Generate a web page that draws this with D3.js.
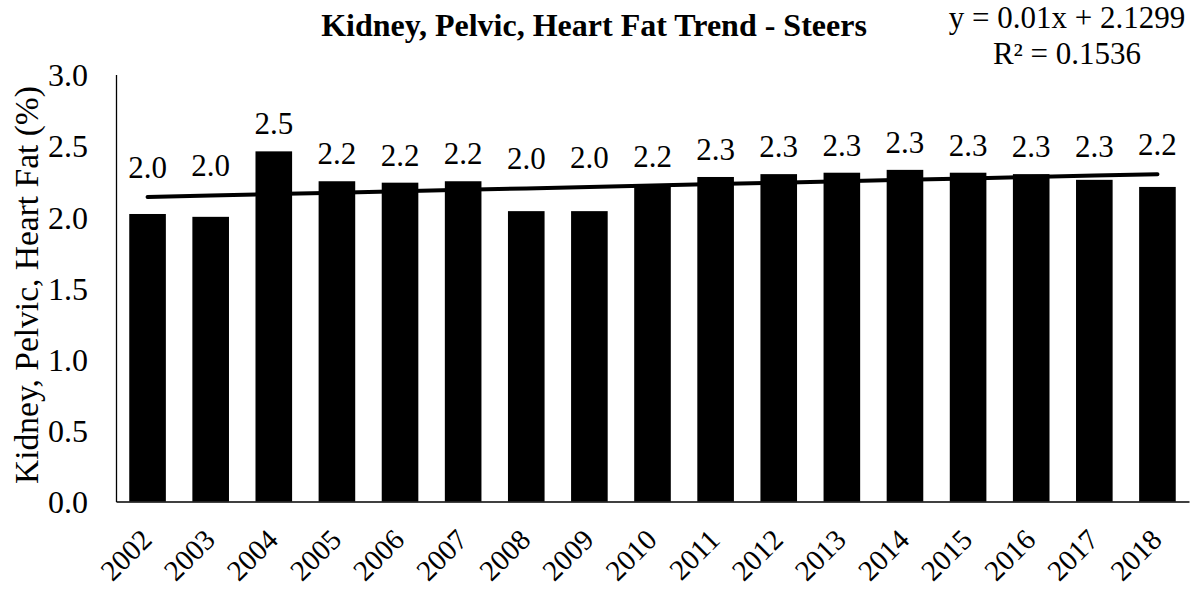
<!DOCTYPE html>
<html>
<head>
<meta charset="utf-8">
<script src="https://cdn.jsdelivr.net/npm/d3@7"></script>
<style>
  body { margin: 0; background: #fff; }
  text { font-family: "Liberation Serif", "Times New Roman", serif; fill: #000; }
</style>
</head>
<body>
<div id="chart"></div>
<script>
// data
const years = ['2002', '2003', '2004', '2005', '2006', '2007', '2008', '2009', '2010',
               '2011', '2012', '2013', '2014', '2015', '2016', '2017', '2018'];
const kphValues = [2.02, 2.00, 2.46, 2.25, 2.24, 2.25, 2.04, 2.04, 2.21,
                   2.28, 2.30, 2.31, 2.33, 2.31, 2.30, 2.26, 2.21];
const kphLabels = ['2.0', '2.0', '2.5', '2.2', '2.2', '2.2', '2.0', '2.0', '2.2',
                   '2.3', '2.3', '2.3', '2.3', '2.3', '2.3', '2.3', '2.2'];
const yTicks = [0, 0.5, 1.0, 1.5, 2.0, 2.5, 3.0];
// linear trend, x = 1..17
const trendSlope = 0.01;
const trendIntercept = 2.1299;
const trendText = ['y = 0.01x + 2.1299', 'R\u00B2 = 0.1536'];

function plotBars() {
	const width = 1198, height = 591;
	const svg = d3.select('#chart')
		.append('svg')
		.attr('width', width)
		.attr('height', height);

	const x = d3.scaleBand()
		.domain(years)
		.range([116, 1189])
		.paddingInner(0.42)
		.paddingOuter(0.21);

	const y = d3.scaleLinear()
		.domain([0, 3])
		.range([501.5, 74.5]);

	// bars
	svg.selectAll('.bar')
		.data(years)
		.enter().append('rect')
		.attr('class', 'bar')
		.attr('x', d => x(d))
		.attr('y', (d, i) => y(kphValues[i]))
		.attr('width', x.bandwidth())
		.attr('height', (d, i) => y(0) - y(kphValues[i]))
		.attr('fill', '#000');

	// trend line
	const trend = (i) => trendIntercept + trendSlope * (i + 1);
	const line = d3.line()
		.x((d, i) => x(d) + x.bandwidth() / 2)
		.y((d, i) => y(trend(i)));
	svg.append('path')
		.datum(years)
		.attr('d', line)
		.attr('fill', 'none')
		.attr('stroke', '#000')
		.attr('stroke-width', 4)
		.attr('stroke-linecap', 'round');

	// data labels, kept above the bar and the trend line
	svg.selectAll('.lbl')
		.data(years)
		.enter().append('text')
		.attr('class', 'lbl')
		.attr('x', d => x(d) + x.bandwidth() / 2)
		.attr('y', (d, i) => Math.min(y(kphValues[i]), y(trend(i)) - 2) - 17)
		.attr('text-anchor', 'middle')
		.style('font-size', '31px')
		.text((d, i) => kphLabels[i]);

	// y axis
	const yAxis = d3.axisLeft(y)
		.tickValues(yTicks)
		.tickFormat(d3.format('.1f'))
		.tickSize(0)
		.tickPadding(28);
	const gy = svg.append('g')
		.attr('transform', 'translate(116,0)')
		.call(yAxis);
	gy.select('.domain').attr('stroke', '#000').attr('stroke-width', 1.3);
	gy.selectAll('text')
		.style('font-size', '32px')
		.attr('dy', '0.35em');

	// x axis
	const xAxis = d3.axisBottom(x).tickSize(0).tickSizeOuter(0);
	const gx = svg.append('g')
		.attr('transform', 'translate(0,501.5)')
		.call(xAxis);
	gx.select('.domain').attr('stroke', '#000').attr('stroke-width', 1.3);
	gx.selectAll('text')
		.style('font-size', '29px')
		.attr('text-anchor', 'end')
		.attr('dy', 0)
		.attr('y', 0)
		.attr('transform', 'translate(6,40) rotate(-45)');

	// y axis title
	svg.append('text')
		.attr('transform', 'translate(38,285) rotate(-90)')
		.attr('text-anchor', 'middle')
		.style('font-size', '33.5px')
		.text('Kidney, Pelvic, Heart Fat (%)');

	// chart title
	svg.append('text')
		.attr('x', 594)
		.attr('y', 36)
		.attr('text-anchor', 'middle')
		.style('font-size', '32px')
		.style('font-weight', 'bold')
		.text('Kidney, Pelvic, Heart Fat Trend - Steers');

	// trendline equation
	svg.selectAll('.eq')
		.data(trendText)
		.enter().append('text')
		.attr('class', 'eq')
		.attr('x', 1067)
		.attr('y', (d, i) => 28 + i * 36)
		.attr('text-anchor', 'middle')
		.style('font-size', '31px')
		.text(d => d);
}

document.addEventListener('DOMContentLoaded', plotBars, false);
</script>
</body>
</html>
